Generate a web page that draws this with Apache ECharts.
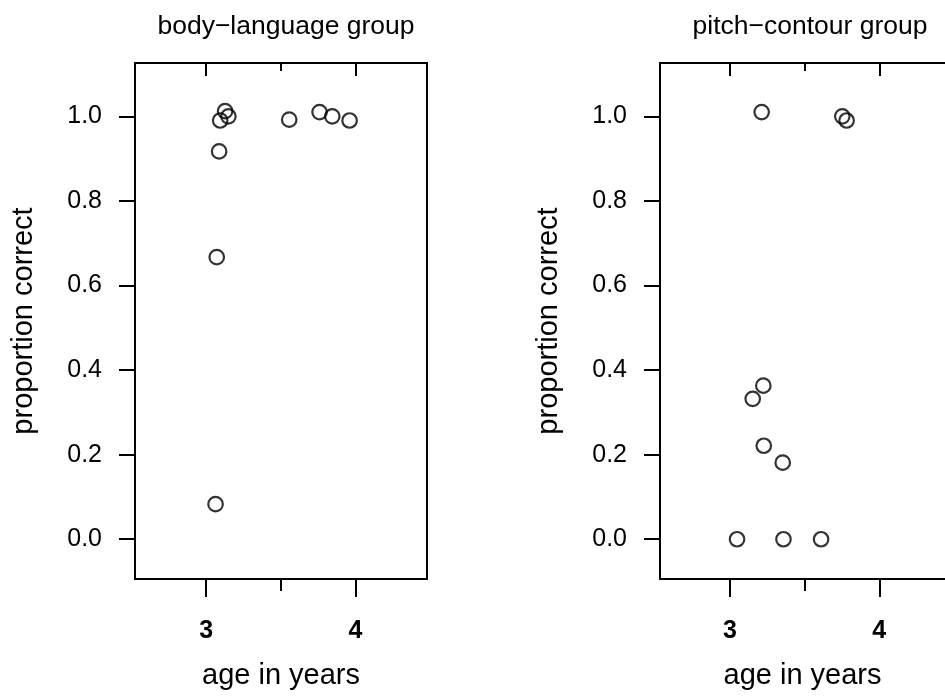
<!DOCTYPE html>
<html>
<head>
<meta charset="utf-8">
<script src="https://cdn.jsdelivr.net/npm/echarts@6/dist/echarts.min.js"></script>
<style>
  html, body { margin: 0; padding: 0; background: #fff; }
  #chart { width: 945px; height: 700px; }
</style>
</head>
<body>
<div id="chart"></div>
<script>
// 两组数据：年龄 / 正确率
var bodyAge = [3.094, 3.127, 3.149, 3.087, 3.071, 3.063, 3.556, 3.759, 3.844, 3.960];
var bodyProp = [0.990, 1.012, 1.000, 0.917, 0.667, 0.083, 0.992, 1.010, 1.000, 0.990];
var pitchAge = [3.212, 3.752, 3.781, 3.223, 3.152, 3.226, 3.353, 3.047, 3.358, 3.610];
var pitchProp = [1.010, 1.000, 0.990, 0.363, 0.332, 0.221, 0.181, 0.000, 0.000, 0.000];

var titles = ['body\u2212language group', 'pitch\u2212contour group'];
var xMajor = [3, 4];
var xMinor = [3.5];
var yTicks = [0, 0.2, 0.4, 0.6, 0.8, 1.0];

// 右图在画布右侧被截断，所以 x 范围更短
var xRanges = [[2.524, 4.478], [2.531, 4.440]];
var Y_MIN = -0.094, Y_MAX = 1.126;
var FONT = 'Liberation Sans, Arial, Helvetica, sans-serif';
var FS = 25;     // 刻度标签
var FS_T = 26.5; // 标题
var FS_N = 29;   // 坐标轴名称

function zip(a, b) {
    return a.map(function (v, i) { return [v, b[i]]; });
}

var chart = echarts.init(document.getElementById('chart'));

var grids = [
    { left: 135, top: 63, width: 292, height: 516, show: true },
    { left: 660, top: 63, width: 285, height: 516, show: false }
];

var tickLine = { color: '#000', width: 2 };
var edgeLine = { show: true, onZero: false, lineStyle: { color: '#000', width: 2 } };

var xAxes = [];
var yAxes = [];
grids.forEach(function (g, gi) {
    var lineOn = !g.show; // 右图用坐标轴线代替边框
    var base = {
        gridIndex: gi, type: 'value', min: xRanges[gi][0], max: xRanges[gi][1],
        axisLine: { show: false, onZero: false }, splitLine: { show: false }
    };
    // 下方主刻度 + 标签
    xAxes.push(Object.assign({}, base, {
        position: 'bottom',
        axisLine: lineOn ? edgeLine : base.axisLine,
        name: 'age in years', nameLocation: 'middle', nameGap: 82,
        nameTextStyle: { fontFamily: FONT, fontSize: FS_N, color: '#000' },
        axisTick: { show: true, length: 18, customValues: xMajor, lineStyle: tickLine },
        axisLabel: {
            show: true, customValues: xMajor, margin: 40,
            fontFamily: FONT, fontSize: FS, fontWeight: 'bold', color: '#000'
        }
    }));
    // 下方次刻度
    xAxes.push(Object.assign({}, base, {
        position: 'bottom',
        axisTick: { show: true, length: 12, customValues: xMinor, lineStyle: tickLine },
        axisLabel: { show: false }
    }));
    // 上方刻度（朝内）
    xAxes.push(Object.assign({}, base, {
        position: 'top',
        axisLine: lineOn ? edgeLine : base.axisLine,
        axisTick: { show: true, inside: true, length: 13, customValues: xMajor, lineStyle: tickLine },
        axisLabel: { show: false }
    }));
    xAxes.push(Object.assign({}, base, {
        position: 'top',
        axisTick: { show: true, inside: true, length: 8, customValues: xMinor, lineStyle: tickLine },
        axisLabel: { show: false }
    }));

    yAxes.push({
        gridIndex: gi, type: 'value', min: Y_MIN, max: Y_MAX,
        name: 'proportion correct', nameLocation: 'middle', nameGap: 97,
        nameTextStyle: { fontFamily: FONT, fontSize: FS_N, color: '#000' },
        axisLine: lineOn ? edgeLine : { show: false, onZero: false },
        splitLine: { show: false },
        axisTick: { show: true, length: 16, customValues: yTicks, lineStyle: tickLine },
        axisLabel: {
            show: true, customValues: yTicks, margin: 33,
            fontFamily: FONT, fontSize: FS, color: '#000',
            formatter: function (v) { return v.toFixed(1); }
        }
    });
});

var options = {
    backgroundColor: '#fff',
    animation: false,
    title: titles.map(function (t, i) {
        // 标题居中于完整的图框（右图框延伸到画布外）
        var centre = i === 0 ? 281 : 805;
        return {
            text: t,
            left: centre,
            top: 8,
            textAlign: 'center',
            textStyle: { fontFamily: FONT, fontSize: FS_T, fontWeight: 'normal', color: '#000' }
        };
    }),
    grid: grids.map(function (g) {
        return {
            left: g.left, top: g.top, width: g.width, height: g.height,
            show: g.show, borderColor: '#000', borderWidth: 2, backgroundColor: 'transparent'
        };
    }),
    xAxis: xAxes,
    yAxis: yAxes,
    series: [
        {
            type: 'scatter', xAxisIndex: 0, yAxisIndex: 0,
            data: zip(bodyAge, bodyProp),
            symbol: 'circle', symbolSize: 14.5,
            itemStyle: { color: 'transparent', borderColor: '#000', borderWidth: 2.2 }
        },
        {
            type: 'scatter', xAxisIndex: 4, yAxisIndex: 1,
            data: zip(pitchAge, pitchProp),
            symbol: 'circle', symbolSize: 14.5,
            itemStyle: { color: 'transparent', borderColor: '#000', borderWidth: 2.2 }
        }
    ]
};

chart.setOption(options);
</script>
</body>
</html>
